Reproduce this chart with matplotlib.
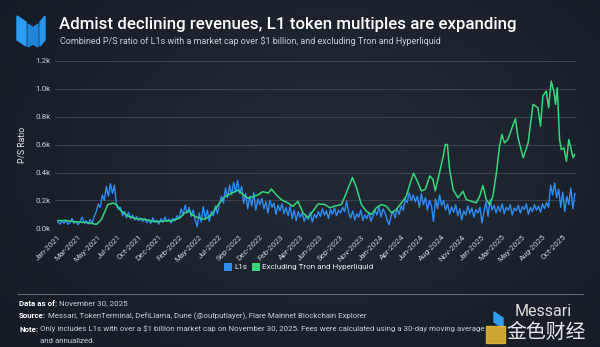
import numpy as np
import pandas as pd
import matplotlib
matplotlib.use("Agg")
import matplotlib.pyplot as plt
from matplotlib.patches import Polygon
from matplotlib.lines import Line2D

# ---------------- data ----------------
start_date = "2021-01-01"

# L1s combined P/S ratio, weekly samples from 2021-01-01
l1s = [45, 30, 55, 35, 60, 28, 42, 70, 35, 50, 25, 45, 80, 38, 55, 30, 62, 40, 85,
       120, 175, 150, 240, 200, 300, 230, 320, 250, 310, 165, 135, 150, 90, 120, 75, 115, 70, 95, 60, 85, 55, 75, 48,
       70, 40, 62, 35, 75, 45, 58, 30, 68, 42, 80, 50, 65, 38, 72, 55, 90, 70,
       140, 95, 165, 110, 150, 85, 130,
       60, 12, 110, 45, 155, 70, 130, 50, 120, 90,
       160, 105, 175,
       230, 180, 290, 220, 310, 240, 330, 260, 345, 250, 300,
       180, 250, 140, 230, 160, 255, 130, 210, 170,
       215, 140, 190, 110, 200, 150, 180, 100, 165, 125, 175, 105, 150,
       90, 160, 70, 130, 55, 120, 80, 110, 50, 95,
       65, 115, 45, 100, 75,
       120, 85, 140, 95, 125, 70, 135, 100, 145, 90, 130, 110, 150, 120, 195,
       110, 75, 125, 60, 105, 80, 130, 55, 95, 70, 115, 50, 85,
       130, 95, 155, 80, 140, 110, 60, 25, 90, 120, 75,
       140, 100, 160, 130,
       210, 185, 255, 200, 240, 190,
       230, 150, 250, 170, 220, 130, 200, 160, 50, 210, 140, 240, 165, 200,
       130, 175, 100, 155, 115, 170, 90, 140, 60, 125, 95, 160, 105, 145, 80, 135, 110,
       150, 38, 120, 190, 85, 205, 130, 165, 110,
       160, 120, 175, 105, 150, 130, 170, 95, 145, 125, 165, 110, 155, 135, 175, 100, 150, 120, 170, 130, 160, 115, 175, 140, 185, 150,
       310, 240, 325, 220,
       280, 150, 260, 120, 230, 170, 290, 140, 250]

# Excluding Tron and Hyperliquid: days since 2021-01-01 and values
excl_days = [0, 24, 59, 104, 134, 151, 173, 191, 203, 221, 244, 273, 301, 336, 371, 400, 423, 440, 457,
             463, 486, 509, 533, 556, 579, 602, 625, 642, 660, 677, 694, 711, 729, 740, 757, 775, 798,
             815, 832, 850, 867, 884, 902, 925, 943, 960, 983, 1000, 1021, 1035, 1052, 1069, 1087,
             1104, 1121, 1139, 1156, 1173, 1191, 1208, 1220, 1233, 1248, 1260, 1274, 1289, 1300,
             1308, 1323, 1335, 1343, 1350, 1358, 1370, 1387, 1404, 1416, 1433, 1450, 1462, 1473,
             1485, 1497, 1508, 1520, 1531, 1539, 1548, 1560, 1572, 1586, 1595, 1613, 1630, 1647,
             1664, 1673, 1681, 1693, 1701, 1710, 1719, 1725, 1731, 1739, 1745, 1754, 1763, 1771,
             1778, 1786, 1791]
excl_vals = [55, 56, 47, 40, 28, 64, 170, 181, 170, 122, 87, 68, 64, 47, 52, 56, 75, 110, 125,
             99, 75, 64, 99, 170, 228, 252, 275, 240, 216, 228, 240, 263, 252, 282, 240, 205, 181,
             158, 193, 110, 75, 122, 175, 171, 147, 159, 171, 255, 364, 292, 171, 123, 99,
             147, 171, 159, 111, 135, 183, 231, 316, 395, 328, 268, 280, 376, 352,
             268, 400, 509, 600, 601, 422, 278, 218, 266, 206, 194, 182, 230, 307,
             206, 170, 230, 398, 589, 673, 613, 637, 709, 786, 649, 505, 613, 889,
             865, 733, 948, 984, 865, 1056, 984, 889, 1008, 637, 565, 577, 481, 637,
             577, 505, 529]

tick_labels = ["Jan-2021", "Mar-2021", "May-2021", "Jul-2021", "Oct-2021", "Dec-2021",
               "Feb-2022", "May-2022", "Jul-2022", "Sep-2022", "Dec-2022", "Feb-2023",
               "Apr-2023", "Jun-2023", "Sep-2023", "Nov-2023", "Jan-2024", "Apr-2024",
               "Jun-2024", "Aug-2024", "Nov-2024", "Jan-2025", "Mar-2025", "May-2025",
               "Aug-2025", "Oct-2025"]
tick_step_days = 70
y_ticks = [0, 200, 400, 600, 800, 1000, 1200]
y_tick_labels = ["0.0k", "0.2k", "0.4k", "0.6k", "0.8k", "1.0k", "1.2k"]

series_names = ["L1s", "Excluding Tron and Hyperliquid"]

# ---------------- style ----------------
BG = "#1b222c"
BLUE = "#2f8cf2"
GREEN = "#35d67c"
GRID = "#3a424d"
TXT = "#e8ebef"
SUB = "#c9ced6"

W, H = 600, 347
fig = plt.figure(figsize=(6.0, 3.47), dpi=100)
fig.patch.set_facecolor(BG)

def fx(px):
    return px / W

def fy(py):
    return 1 - py / H

# background gradient
bg_ax = fig.add_axes([0, 0, 1, 1], zorder=-10)
yy, xx = np.mgrid[0:1:200j, 0:1:300j]
grad = np.exp(-((xx - 0.55) ** 2 / 0.25 + (yy - 0.45) ** 2 / 0.35))
c0 = np.array([0x14, 0x1a, 0x22]) / 255
c1 = np.array([0x21, 0x29, 0x34]) / 255
img = c0[None, None, :] + (c1 - c0)[None, None, :] * grad[:, :, None] / grad.max()
bg_ax.imshow(img, aspect="auto", extent=[0, 1, 0, 1], origin="upper")
bg_ax.axis("off")

fam = ["Roboto", "DejaVu Sans"]

# logo
for pts, col in [
    ([(17, 16), (26, 22), (26, 46), (17, 40)], "#2d9df5"),
    ([(28, 24), (33, 27.5), (38, 24), (38, 47), (33, 44), (28, 47)], "#1f86d9"),
    ([(40, 22), (45, 16), (45, 40), (40, 46)], "#2a95ec"),
]:
    fig.patches.append(Polygon([(fx(a), fy(b)) for a, b in pts], closed=True,
                               transform=fig.transFigure, color=col, zorder=5))

fig.text(fx(59), fy(25), "Admist declining revenues, L1 token multiples are expanding",
         fontsize=12.2, color="white", fontweight="medium", family=fam, va="center", ha="left")
fig.text(fx(60), fy(41.5), "Combined P/S ratio of L1s with a market cap over $1 billion, and excluding Tron and Hyperliquid",
         fontsize=6.5, color=SUB, family=fam, va="center", ha="left")

# main axes
left, right = 55, 576
top, bottom = 61, 228.3
ax = fig.add_axes([fx(left), fy(bottom), fx(right) - fx(left), (bottom - top) / H])
ax.set_facecolor("none")

t0 = np.datetime64(start_date)
blue_dates = pd.date_range(start_date, periods=len(l1s), freq="7D")
green_dates = t0 + np.array(excl_days).astype("timedelta64[D]")

ax.plot(blue_dates, l1s, color=BLUE, lw=1.0, zorder=3)
ax.plot(green_dates, excl_vals, color=GREEN, lw=1.1, zorder=4)

ax.set_ylim(0, 1200)
ax.set_xlim(t0 - np.timedelta64(10, "D"), t0 + np.timedelta64(1796, "D"))
ax.set_yticks(y_ticks)
ax.set_yticklabels(y_tick_labels)
tick_dates = t0 + (np.arange(len(tick_labels)) * tick_step_days).astype("timedelta64[D]")
ax.set_xticks(tick_dates)
ax.set_xticklabels(tick_labels, rotation=45, ha="right", rotation_mode="anchor")
ax.tick_params(axis="both", length=0, colors=SUB, labelsize=5.8, pad=3)
ax.tick_params(axis="x", pad=4)
for lab in ax.get_xticklabels() + ax.get_yticklabels():
    lab.set_family(fam)
ax.grid(axis="y", color=GRID, lw=0.8, zorder=0)
for s in ax.spines.values():
    s.set_visible(False)
ax.set_ylabel("P/S Ratio", color=TXT, fontsize=6.2, family=fam, labelpad=6)

# legend
leg = fig.legend([Line2D([0], [0], color=BLUE, lw=0, marker="s", markersize=6.3, markeredgewidth=0),
                  Line2D([0], [0], color=GREEN, lw=0, marker="s", markersize=6.3, markeredgewidth=0)],
                 series_names, loc="center", bbox_to_anchor=(fx(299), fy(267)), ncol=2, frameon=False,
                 labelcolor=TXT, handlelength=0.9, handletextpad=0.35, columnspacing=0.5,
                 prop={"family": fam, "size": 5.9})

# footer
fig.add_artist(Line2D([fx(18), fx(583)], [fy(294), fy(294)], color="#6b727c", lw=0.7,
                      transform=fig.transFigure))
fs = 5.65
r = fig.canvas.get_renderer()

def line(xp, yp, bold, rest):
    t = fig.text(fx(xp), fy(yp), bold, fontsize=fs, color="white", fontweight="bold", family=fam, va="center")
    bb = t.get_window_extent(renderer=r)
    fig.text(bb.x1 / fig.bbox.width + fx(2), fy(yp), rest, fontsize=fs, color=SUB, family=fam, va="center")

line(19, 303, "Data as of:", "November 30, 2025")
line(19, 316, "Source:", "Messari, TokenTerminal, DefiLlama, Dune (@outputlayer), Flare Mainnet Blockchain Explorer")
line(19, 329, "Note:", "Only includes L1s with over a $1 billion market cap on November 30, 2025. Fees were calculated using a 30-day moving average")
fig.text(fx(40), fy(341), "and annualized.", fontsize=fs, color=SUB, family=fam, va="center")

# watermark
fig.patches.append(Polygon([(fx(a), fy(b)) for a, b in [(494, 312), (503, 318), (503, 328), (494, 322)]],
                           closed=True, transform=fig.transFigure, color="#2d9df5", zorder=5))
fig.text(fx(515), fy(311), "Messari", fontsize=11.5, color="white", family=fam, va="center", alpha=0.85)
fig.patches.append(Polygon([(fx(a), fy(b)) for a, b in [(486, 326), (505, 326), (505, 343), (486, 343)]],
                           closed=True, transform=fig.transFigure, color="#e2b534", zorder=5, alpha=0.9))
fig.text(fx(506), fy(332), "金色财经", fontsize=14.3, color="white",
         family=["Noto Sans CJK SC", "DejaVu Sans"], va="center", alpha=0.9)

fig.savefig("out.png", dpi=100, facecolor=BG)
